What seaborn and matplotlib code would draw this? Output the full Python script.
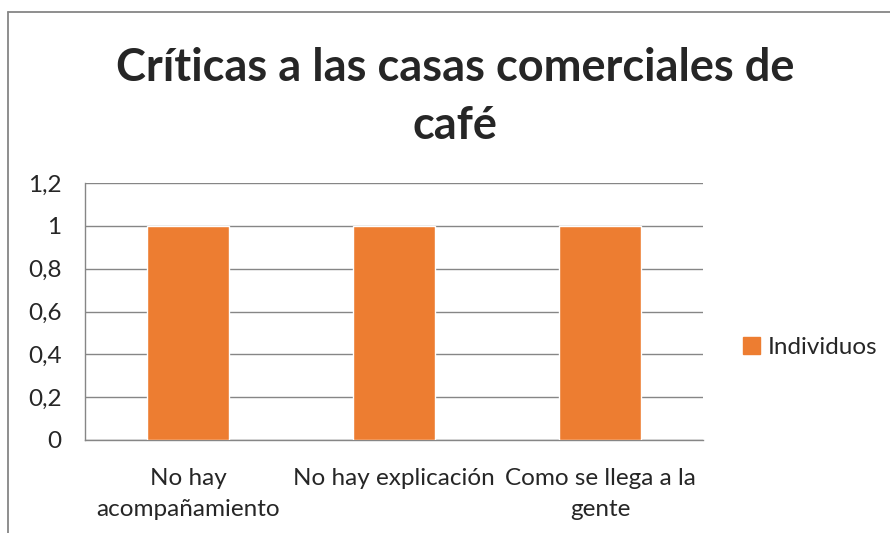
import pandas as pd
import matplotlib.pyplot as plt
import seaborn as sns
from matplotlib.lines import Line2D
from matplotlib.patches import Patch
from matplotlib.ticker import FuncFormatter

categorias = ["No hay\nacompañamiento", "No hay explicación", "Como se llega a la\ngente"]
individuos = [1, 1, 1]
titulo = "Críticas a las casas comerciales de\ncafé"
serie = "Individuos"

df = pd.DataFrame({"Categoria": categorias, "Individuos": individuos})

sns.set_style("white")
plt.rcParams['font.family'] = ['Lato', 'DejaVu Sans']

fig = plt.figure(figsize=(8.9, 5.33), dpi=100)
ax = fig.add_axes([85 / 890, 1 - 440 / 533, 618 / 890, 257 / 533])

naranja = "#ED7D31"
gris = "#868686"

sns.barplot(x="Categoria", y="Individuos", data=df, color=naranja, width=0.4,
            saturation=1, ax=ax, zorder=3)

ax.set_ylim(0, 1.2)
ax.set_yticks([0, 0.2, 0.4, 0.6, 0.8, 1.0, 1.2])
ax.yaxis.set_major_formatter(FuncFormatter(lambda v, p: ("%g" % round(v, 1)).replace(".", ",")))
ax.set_xlim(-0.5, 2.5)
ax.set_xticks([-0.5, 0.5, 1.5, 2.5])
ax.set_xticklabels([])
ax.set_xticks([0, 1, 2], minor=True)
ax.set_xticklabels(categorias, minor=True, fontsize=17.5, linespacing=1.6)
ax.tick_params(axis="x", which="minor", length=0, pad=20)
ax.tick_params(axis="x", which="major", length=8, color=gris, direction="out")
ax.tick_params(axis="y", length=8, color=gris, labelsize=17.5, pad=9, direction="out")
ax.grid(axis="y", color=gris, linewidth=1, zorder=0)
ax.set_xlabel("")
ax.set_ylabel("")
for s in ["top", "right"]:
    ax.spines[s].set_visible(False)
for s in ["left", "bottom"]:
    ax.spines[s].set_color(gris)
    ax.spines[s].set_linewidth(1)

fig.text(455 / 890, 1 - 97 / 533, titulo, ha="center", va="center",
         fontsize=32.5, fontweight="bold", linespacing=1.45)

ax.legend(handles=[Patch(color=naranja, label=serie)], loc="center left",
          bbox_to_anchor=(1.03, 0.36), frameon=False, fontsize=17.5,
          handlelength=0.7, handleheight=0.7, handletextpad=0.3)

fig.add_artist(Line2D([8 / 890, 8 / 890], [0, 1 - 12 / 533], color=gris, linewidth=1.3))
fig.add_artist(Line2D([8 / 890, 1], [1 - 12 / 533, 1 - 12 / 533], color=gris, linewidth=1.3))

fig.savefig("out.png", dpi=100)
